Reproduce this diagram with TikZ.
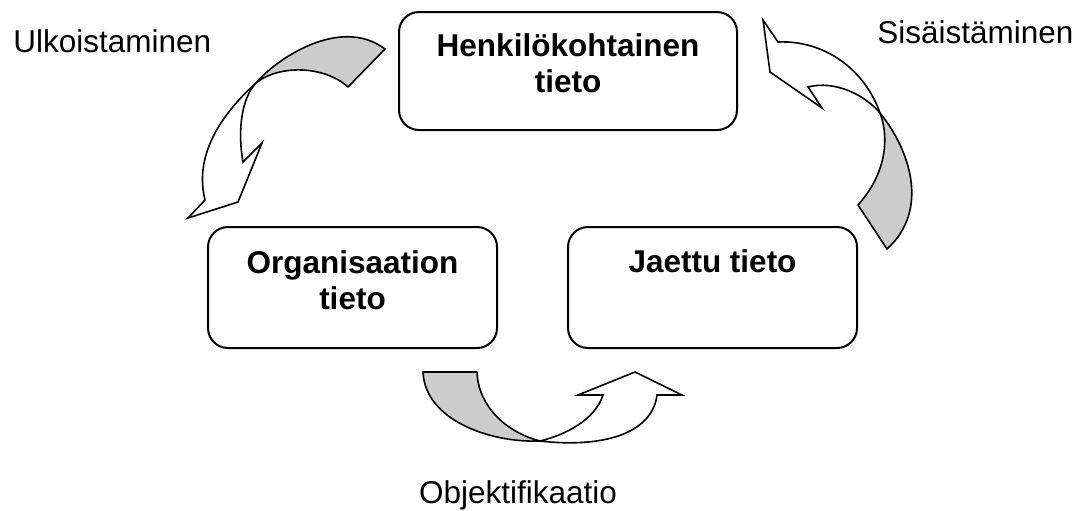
\documentclass[tikz,border=0pt]{standalone}
\usepackage{fontspec}
\setmainfont{Liberation Sans}
\usetikzlibrary{positioning}

\begin{document}
\begin{tikzpicture}[
  x=0.5pt, y=-0.5pt,
  box/.style={draw, line width=1pt, rounded corners=10pt},
  boxtext/.style={font=\fontsize{15.75}{18}\selectfont\bfseries, align=center},
  lab/.style={font=\fontsize{15.75}{18}\selectfont},
  band/.style={draw, line width=0.8pt, fill=black!20, line join=round},
  head/.style={draw, line width=0.8pt, fill=white, line join=miter}
]
  \useasboundingbox (0,0) rectangle (1079,510);
  \node[box, minimum width=169pt, minimum height=59pt] (henk) at (568,71) {};
  \node[box, minimum width=144.5pt, minimum height=60.5pt] (org) at (352.5,287.5) {};
  \node[box, minimum width=144.5pt, minimum height=60.5pt] (jaet) at (712.5,287.5) {};
  \node[boxtext, anchor=base] (henkt) at ([yshift=-40.5pt]henk.north) {Henkil\"okohtainen\\tieto};
  \node[boxtext, anchor=base] (orgt) at ([yshift=-41.5pt]org.north) {Organisaation\\tieto};
  \node[boxtext, anchor=base] (jaett) at ([yshift=-23pt]jaet.north) {Jaettu tieto};
  \node[lab, anchor=base west, inner sep=0pt] (ulk) at (13,52) {Ulkoistaminen};
  \node[lab, anchor=base west, inner sep=0pt] (sis) at (877,43) {Sis\"aist\"aminen};
  \node[lab, anchor=base, inner sep=0pt] (obj) at (518,503) {Objektifikaatio};
  % curved arrows: shaded back band, white front with head
  \draw[band] (256,83) .. controls (275,60) and (340,15) .. (385,49) -- (348,87)
    .. controls (325,66) and (280,64) .. (256,83) -- cycle;
  \draw[head] (256,83) .. controls (215,120) and (195,160) .. (205,200) -- (188,218)
    -- (238,202) -- (262,143) -- (243,162) .. controls (238,135) and (240,100) .. (256,83) -- cycle;
  \draw[band] (880,113) .. controls (910,150) and (930,210) .. (887,249) -- (858,205)
    .. controls (885,175) and (890,140) .. (880,113) -- cycle;
  \draw[head] (880,113) .. controls (865,70) and (825,40) .. (778,42) -- (763,20)
    -- (770,72) -- (822,108) -- (808,87) .. controls (835,80) and (865,95) .. (880,113) -- cycle;
  \draw[band] (423,372) -- (477,372) .. controls (478,405) and (505,432) .. (540,441)
    .. controls (490,443) and (425,420) .. (423,372) -- cycle;
  \draw[head] (540,441) .. controls (565,435) and (595,420) .. (603,395) -- (578,395)
    -- (635,372) -- (682,395) -- (657,395) .. controls (652,435) and (600,448) .. (540,441) -- cycle;
\end{tikzpicture}
\end{document}
